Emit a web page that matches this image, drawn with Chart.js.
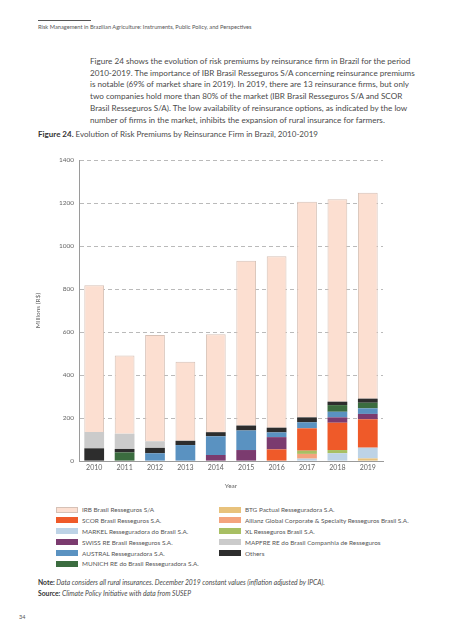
<!DOCTYPE html>
<html>
<head>
<meta charset="utf-8">
<script src="https://cdn.jsdelivr.net/npm/chart.js@4.4.0/dist/chart.umd.min.js"></script>
<style>
body { margin: 0; width: 453px; height: 640px; position: relative; background: #fff; overflow: hidden;
       font-family: Lato, "Open Sans", sans-serif; color: #4a4a4a; }
.abs { position: absolute; white-space: nowrap; }
#rule { left: 38px; top: 20px; width: 53px; height: 1px; background: #555; }
#header { left: 38px; top: 23px; font-size: 5.7px; color: #555; }
#para { left: 90px; top: 56px; font-size: 8.15px; line-height: 11.7px; color: #4a4a4a; }
#figtitle { left: 38px; top: 129px; font-size: 8px; color: #4a4a4a; }
#figtitle b { color: #333; }
#chartBox { left: 0; top: 145px; width: 400px; height: 350px; }
#legend { left: 56px; top: 505px; font-size: 6.4px; color: #555; }
.col { position: absolute; top: 0; }
.item { height: 10.9px; line-height: 10.9px; white-space: nowrap; }
.sw { display: inline-block; width: 22px; height: 6px; margin-right: 4px; vertical-align: -0.5px; box-sizing: border-box; }
#note { left: 38px; top: 577px; font-size: 6.75px; line-height: 11px; color: #4a4a4a; font-style: italic; }
#note b { font-style: normal; color: #333; }
#page { left: 19px; top: 614px; font-size: 5.5px; color: #555; }
</style>
</head>
<body>
<div class="abs" id="rule"></div>
<div class="abs" id="header">Risk Management in Brazilian Agriculture: Instruments, Public Policy, and Perspectives</div>
<div class="abs" id="para">Figure 24 shows the evolution of risk premiums by reinsurance firm in Brazil for the period<br>2010-2019. The importance of IBR Brasil Resseguros S/A concerning reinsurance premiums<br>is notable (69% of market share in 2019). In 2019, there are 13 reinsurance firms, but only<br>two companies hold more than 80% of the market (IBR Brasil Resseguros S/A and SCOR<br>Brasil Resseguros S/A). The low availability of reinsurance options, as indicated by the low<br>number of firms in the market, inhibits the expansion of rural insurance for farmers.</div>
<div class="abs" id="figtitle"><b>Figure 24.</b> Evolution of Risk Premiums by Reinsurance Firm in Brazil, 2010-2019</div>
<div class="abs" id="chartBox"><canvas id="myChart" width="400" height="350"></canvas></div>
<div class="abs" id="legend"></div>
<div class="abs" id="note"><b>Note:</b> Data considers all rural insurances. December 2019 constant values (inflation adjusted by IPCA).<br><b>Source:</b> Climate Policy Initiative with data from SUSEP</div>
<div class="abs" id="page">34</div>

<script>
// values in millions of R$
const years = ['2010', '2011', '2012', '2013', '2014', '2015', '2016', '2017', '2018', '2019'];
const irb      = [683, 364, 494, 368, 455, 766, 797, 1003, 941, 958];
const scor     = [0, 0, 0, 0, 0, 0, 54, 104, 127, 132];
const markel   = [0, 0, 0, 0, 0, 0, 0, 11, 36, 50];
const swissRe  = [0, 0, 0, 0, 28, 51, 57, 0, 25, 25];
const austral  = [0, 0, 36, 74, 87, 91, 22, 28, 26, 26];
const munichRe = [0, 40, 0, 0, 0, 0, 0, 0, 31, 26];
const btg      = [0, 0, 0, 0, 0, 0, 0, 0, 0, 12];
const allianz  = [0, 0, 0, 0, 0, 0, 0, 22, 0, 0];
const xl       = [0, 0, 0, 0, 0, 0, 0, 15, 15, 0];
const mapfre   = [76, 71, 31, 0, 0, 0, 0, 0, 0, 0];
const others   = [59, 16, 25, 20, 19, 23, 22, 23, 16, 19];
const yTicks = [0, 200, 400, 600, 800, 1000, 1200, 1400];

// stacking order, bottom first
var datasets = [
    {label: 'BTG Pactual Resseguradora S.A.', data: btg, backgroundColor: '#e8c27c'},
    {label: 'MARKEL Resseguradora do Brasil S.A.', data: markel, backgroundColor: '#bdd3e6'},
    {label: 'Allianz Global Corporate & Specialty Resseguros Brasil S.A.', data: allianz, backgroundColor: '#f4a47e'},
    {label: 'XL Resseguros Brasil S.A.', data: xl, backgroundColor: '#a8bf63'},
    {label: 'SCOR Brasil Resseguros S.A.', data: scor, backgroundColor: '#ef5a29'},
    {label: 'SWISS RE Brasil Resseguros S.A.', data: swissRe, backgroundColor: '#7b3b6f'},
    {label: 'AUSTRAL Resseguradora S.A.', data: austral, backgroundColor: '#5a92c1'},
    {label: 'MUNICH RE do Brasil Resseguradora S.A.', data: munichRe, backgroundColor: '#3b6c3f'},
    {label: 'Others', data: others, backgroundColor: '#2d2d2d'},
    {label: 'MAPFRE RE do Brasil Companhia de Resseguros', data: mapfre, backgroundColor: '#cbcbcb'},
    {label: 'IRB Brasil Resseguros S/A', data: irb, backgroundColor: '#fcdfd1', borderColor: '#d6c1b6', borderWidth: 1}
];

const legendLeft = ['IRB Brasil Resseguros S/A', 'SCOR Brasil Resseguros S.A.', 'MARKEL Resseguradora do Brasil S.A.',
    'SWISS RE Brasil Resseguros S.A.', 'AUSTRAL Resseguradora S.A.', 'MUNICH RE do Brasil Resseguradora S.A.'];
const legendRight = ['BTG Pactual Resseguradora S.A.', 'Allianz Global Corporate & Specialty Resseguros Brasil S.A.',
    'XL Resseguros Brasil S.A.', 'MAPFRE RE do Brasil Companhia de Resseguros', 'Others'];

datasets.forEach(function(d) {
    d.barPercentage = 0.65;
    d.categoryPercentage = 1.0;
    if (!d.borderWidth) d.borderWidth = 0;
});

var ctx = document.getElementById('myChart').getContext('2d');
var chart = new Chart(ctx, {
    type: 'bar',
    data: { labels: years, datasets: datasets },
    options: {
        responsive: false,
        animation: false,
        devicePixelRatio: 1,
        layout: { padding: { left: 0, right: 17, top: 15, bottom: 0 } },
        plugins: { legend: { display: false }, tooltip: { enabled: false } },
        scales: {
            x: {
                stacked: true,
                grid: { display: false, drawTicks: false },
                border: { color: '#9a9a9a', width: 1 },
                ticks: { color: '#666', font: { family: 'Lato', size: 7 }, padding: 3 },
                title: { display: true, text: 'Year', color: '#666', font: { family: 'Lato', size: 6.5 }, padding: { top: 0, bottom: 5 } },
                afterFit: function(s) { s.height = 34; }
            },
            y: {
                stacked: true,
                min: 0,
                max: 1400,
                afterBuildTicks: function(s) { s.ticks = yTicks.map(function(v) { return {value: v}; }); },
                grid: {
                    drawTicks: false,
                    color: function(c) { return c.tick && c.tick.value === 0 ? 'rgba(0,0,0,0)' : '#a8a8a8'; },
                    lineWidth: 0.8
                },
                border: { color: '#9a9a9a', width: 1, dash: [4, 3] },
                ticks: {
                    color: '#666', font: { family: 'Lato', size: 6.5 }, padding: 5,
                    callback: function(v) { return String(v); }
                },
                title: { display: true, text: 'Millions (R$)', color: '#666', font: { family: 'Lato', size: 6.5 }, padding: { top: 34, bottom: 0 } },
                afterFit: function(s) { s.width = 79; }
            }
        }
    }
});

// two-column legend like the original
function buildColumn(labels, left) {
    var col = document.createElement('div');
    col.className = 'col';
    col.style.left = left + 'px';
    labels.forEach(function(name) {
        var ds = datasets.find(function(d) { return d.label === name; });
        var row = document.createElement('div');
        row.className = 'item';
        var sw = document.createElement('span');
        sw.className = 'sw';
        sw.style.background = ds.backgroundColor;
        if (ds.borderWidth) sw.style.border = '0.5px solid ' + ds.borderColor;
        row.appendChild(sw);
        row.appendChild(document.createTextNode(name));
        col.appendChild(row);
    });
    document.getElementById('legend').appendChild(col);
}
buildColumn(legendLeft, 0);
buildColumn(legendRight, 163);
</script>
</body>
</html>
